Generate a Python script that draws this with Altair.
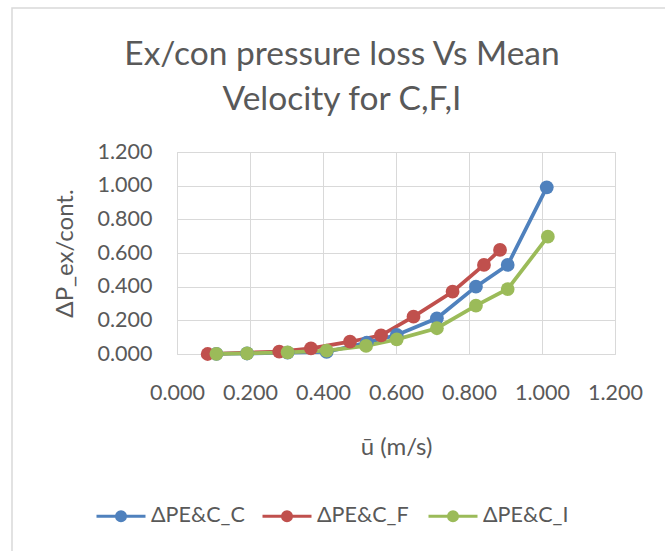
import altair as alt
import pandas as pd

series_names = ["ΔPE&C_C", "ΔPE&C_F", "ΔPE&C_I"]
series_colors = ["#4F81BD", "#C0504D", "#9BBB59"]

c_u = [0.108, 0.192, 0.303, 0.410, 0.520, 0.602, 0.712, 0.819, 0.906, 1.013]
c_p = [0.001, 0.003, 0.008, 0.012, 0.068, 0.113, 0.212, 0.400, 0.529, 0.990]

f_u = [0.084, 0.280, 0.367, 0.474, 0.559, 0.648, 0.755, 0.841, 0.885]
f_p = [0.000, 0.014, 0.034, 0.073, 0.111, 0.222, 0.370, 0.529, 0.618]

i_u = [0.108, 0.192, 0.303, 0.410, 0.518, 0.602, 0.712, 0.819, 0.906, 1.016]
i_p = [0.001, 0.004, 0.010, 0.020, 0.048, 0.087, 0.153, 0.287, 0.386, 0.697]

x_ticks = [0.0, 0.2, 0.4, 0.6, 0.8, 1.0, 1.2]
y_ticks = [0.0, 0.2, 0.4, 0.6, 0.8, 1.0, 1.2]

title_lines = ["Ex/con pressure loss Vs Mean", "Velocity for C,F,I"]
x_title = "ū (m/s)"
y_title = "ΔP_ex/cont."

rows = []
for name, us, ps in zip(series_names, [c_u, f_u, i_u], [c_p, f_p, i_p]):
    for k, (u, p) in enumerate(zip(us, ps)):
        rows.append({"series": name, "u": u, "p": p, "k": k})
df = pd.DataFrame(rows)

FONT = "Lato"
GREY = "#595959"

legend_path = (
    "M-1,0L1,0"
    "M0.184,0A0.184,0.184,0,1,1,-0.184,0A0.184,0.184,0,1,1,0.184,0"
    "M0.122,0A0.122,0.122,0,1,1,-0.122,0A0.122,0.122,0,1,1,0.122,0"
    "M0.061,0A0.061,0.061,0,1,1,-0.061,0A0.061,0.061,0,1,1,0.061,0"
)

x_enc = alt.X(
    "u:Q",
    scale=alt.Scale(domain=[0, 1.2], nice=False),
    axis=alt.Axis(
        values=x_ticks, format=".3f", title=x_title,
        grid=True, gridColor="#D9D9D9", domain=False, ticks=False, tickSize=0,
        labelPadding=28, labelFontSize=21.5, labelColor=GREY, labelFont=FONT,
        labelFlush=False,
        titleFontSize=24, titleFont=FONT, titleColor=GREY, titleFontWeight="normal",
        titleY=93, titleBaseline="middle",
    ),
)
y_enc = alt.Y(
    "p:Q",
    scale=alt.Scale(domain=[0, 1.2], nice=False),
    axis=alt.Axis(
        values=y_ticks, format=".3f", title=y_title,
        grid=True, gridColor="#D9D9D9", domain=False, ticks=False, tickSize=0,
        labelPadding=25, labelFontSize=21.5, labelColor=GREY, labelFont=FONT,
        labelFlush=False,
        titleFontSize=24, titleFont=FONT, titleColor=GREY, titleFontWeight="normal",
        titleX=-112, titleY=101, titleBaseline="middle", titleAngle=-90,
    ),
)
color_enc = alt.Color(
    "series:N",
    scale=alt.Scale(domain=series_names, range=series_colors),
    legend=alt.Legend(
        title=None, orient="none", direction="horizontal",
        legendX=-82, legendY=338,
        symbolType=legend_path, symbolSize=2401, symbolStrokeWidth=3,
        labelFontSize=21.5, labelFont=FONT, labelColor=GREY, labelOffset=4,
        gridAlign="all", columnPadding=11, padding=0,
    ),
)

base = alt.Chart(df)
lines = base.mark_line(strokeWidth=3.75).encode(x=x_enc, y=y_enc, color=color_enc, order="k:Q")
points = base.mark_circle(size=190, opacity=1).encode(x=x_enc, y=y_enc, color=color_enc)

frame = alt.Chart(pd.DataFrame({"a": [0]})).mark_rect(
    fill=None, stroke="#D9D9D9", strokeWidth=1.5
).encode(
    x=alt.value(12 - 177), x2=alt.value(700 - 177),
    y=alt.value(8 - 152), y2=alt.value(600 - 152),
)

chart = alt.layer(frame, lines, points).properties(
    width=438, height=202,
    title=alt.Title(
        title_lines, font=FONT, fontSize=33.5, fontWeight="normal", color=GREY,
        anchor="middle", dx=-54, dy=149, offset=39, lineHeight=45, frame="group",
    ),
    autosize=alt.AutoSizeParams(type="none"),
    padding={"left": 177, "top": 152, "right": 50, "bottom": 197},
).configure_view(stroke="#D9D9D9")

chart.save("out.html", embed_options={"renderer": "svg", "actions": False})
